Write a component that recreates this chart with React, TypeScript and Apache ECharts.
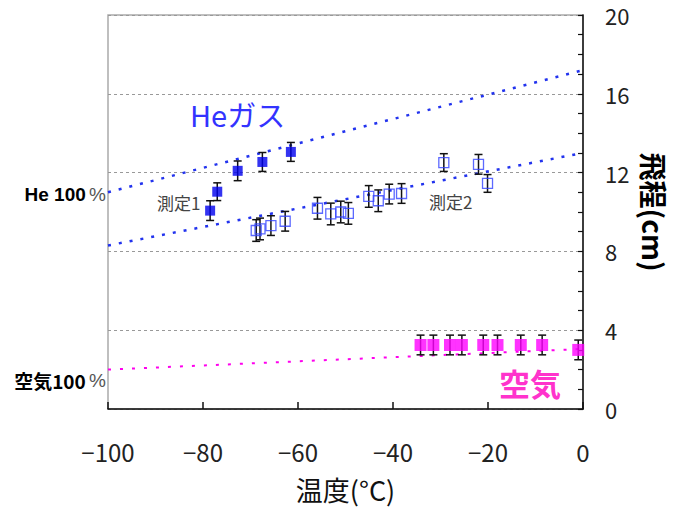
import React, { useEffect, useRef } from "react";
import * as echarts from "echarts";

// He gas, filled squares: [temperature, range]
const heFilledX = [-78.5, -77.0, -72.7, -67.5, -61.5];
const heFilledY = [10.07, 11.03, 12.09, 12.54, 13.05];
const heFilledErr = [0.5, 0.45, 0.5, 0.48, 0.48];

// Open squares (測定1 & 測定2)
const openX = [-68.8, -68.0, -65.7, -62.7, -55.9, -53.1, -51.0, -49.4, -45.1, -43.1, -40.8, -38.2, -29.3, -22.0, -20.1];
const openY = [9.06, 9.14, 9.31, 9.53, 10.19, 9.9, 10.0, 9.93, 10.79, 10.57, 10.91, 10.94, 12.51, 12.42, 11.45];
const openErr = [0.55, 0.55, 0.5, 0.5, 0.55, 0.55, 0.55, 0.55, 0.55, 0.55, 0.5, 0.5, 0.45, 0.5, 0.45];

// Air, filled magenta squares
const airX = [-34.2, -31.5, -28.0, -25.5, -21.0, -18.0, -13.1, -8.6, -1.0];
const airY = [3.25, 3.25, 3.25, 3.25, 3.25, 3.25, 3.25, 3.25, 3.0];
const airErr = [0.5, 0.5, 0.5, 0.5, 0.5, 0.5, 0.5, 0.5, 0.5];

// Dotted fit lines: [x, y] end points
const heUpperLine = [[-100, 11.0], [0, 17.2]];
const heLowerLine = [[-100, 8.3], [0, 13.0]];
const airLine = [[-100, 2.0], [0, 3.05]];

const xTicks = { min: -100, max: 0, interval: 20 };
const yTicks = { min: 0, max: 20, interval: 4 };

const NUM_FONT = "'Noto Sans CJK JP', sans-serif";
const JP_FONT = "'Noto Sans CJK JP', sans-serif";

function pairs(xs: number[], ys: number[]) {
  return xs.map((x, i) => [x, ys[i]]);
}
function errData(xs: number[], ys: number[], es: number[]) {
  return xs.map((x, i) => [x, ys[i] - es[i], ys[i] + es[i]]);
}

const errRender = (params: any, api: any) => {
  const x = api.value(0);
  const lo = api.coord([x, api.value(1)]);
  const hi = api.coord([x, api.value(2)]);
  const cap = 4;
  const style = { stroke: "#111", lineWidth: 1.5 };
  return {
    type: "group",
    children: [
      { type: "line", shape: { x1: lo[0], y1: lo[1], x2: hi[0], y2: hi[1] }, style },
      { type: "line", shape: { x1: lo[0] - cap, y1: lo[1], x2: lo[0] + cap, y2: lo[1] }, style },
      { type: "line", shape: { x1: hi[0] - cap, y1: hi[1], x2: hi[0] + cap, y2: hi[1] }, style },
    ],
  };
};

export default function App() {
  const ref = useRef<HTMLDivElement>(null);
  useEffect(() => {
    if (!ref.current) return;
    const chart = echarts.init(ref.current, undefined, { renderer: "svg" });
    const option: any = {
      animation: false,
      backgroundColor: "#fff",
      grid: {
        left: 108,
        right: 101,
        top: 15,
        bottom: 98,
        show: true,
        borderColor: "#aaa",
        borderWidth: 1.5,
      },
      xAxis: {
        type: "value",
        min: xTicks.min,
        max: xTicks.max,
        interval: xTicks.interval,
        name: "温度(°C)",
        nameLocation: "middle",
        nameGap: 65,
        nameTextStyle: { fontFamily: JP_FONT, fontSize: 27, color: "#111", lineHeight: 30 },
        axisLine: { show: true, lineStyle: { color: "#111", width: 1.5 } },
        axisTick: { show: true, inside: true, length: 7, lineStyle: { color: "#111", width: 1.5 } },
        axisLabel: {
          margin: 30,
          fontSize: 24,
          fontFamily: NUM_FONT,
          color: "#222",
          formatter: (v: number) => String(v).replace("-", "−"),
        },
        splitLine: { show: false },
      },
      yAxis: {
        type: "value",
        position: "right",
        min: yTicks.min,
        max: yTicks.max,
        interval: yTicks.interval,
        name: "飛程(cm)",
        nameLocation: "middle",
        nameRotate: -90,
        nameGap: 52,
        nameTextStyle: { fontFamily: JP_FONT, fontSize: 28, fontWeight: "bold", color: "#000" },
        axisLine: { show: true, lineStyle: { color: "#111", width: 1.5 } },
        axisTick: { show: true, inside: true, length: 5, lineStyle: { color: "#111", width: 1.2 } },
        minorTick: { show: true, splitNumber: 4, length: 5, lineStyle: { color: "#111", width: 1.2 } },
        axisLabel: { margin: 22, fontSize: 22, lineHeight: 22, fontFamily: NUM_FONT, color: "#222" },
        splitLine: { show: true, lineStyle: { color: "#999", type: [3, 3], width: 1.2 } },
      },
      graphic: [
        {
          type: "text",
          x: 190,
          y: 99,
          style: { text: "Heガス", fontFamily: JP_FONT, fontSize: 29, fill: "#3333ff" },
        },
        {
          type: "text",
          x: 499,
          y: 367,
          style: { text: "空気", fontFamily: JP_FONT, fontSize: 31, fontWeight: "bold", fill: "#ff33cc" },
        },
        {
          type: "text",
          x: 157,
          y: 194,
          style: { text: "測定1", fontFamily: JP_FONT, fontSize: 17, fill: "#444" },
        },
        {
          type: "text",
          x: 429,
          y: 193,
          style: { text: "測定2", fontFamily: JP_FONT, fontSize: 17, fill: "#444" },
        },
        {
          type: "text",
          x: 106,
          y: 194,
          style: {
            text: "{b|He 100} {n|%}",
            align: "right",
            verticalAlign: "middle",
            rich: {
              b: { fontFamily: "'Liberation Sans', sans-serif", fontSize: 19, fontWeight: "bold", fill: "#000" },
              n: { fontFamily: "'Liberation Sans', sans-serif", fontSize: 19, fill: "#555" },
            },
          },
        },
        {
          type: "text",
          x: 106,
          y: 380,
          style: {
            text: "{b|空気100} {n|%}",
            align: "right",
            verticalAlign: "middle",
            rich: {
              b: { fontFamily: JP_FONT, fontSize: 19, fontWeight: "bold", fill: "#000" },
              n: { fontFamily: "'Liberation Sans', sans-serif", fontSize: 19, fill: "#555" },
            },
          },
        },
      ],
      series: [
        {
          type: "line",
          data: heUpperLine,
          symbol: "none",
          lineStyle: { color: "#2233ee", width: 2.5, type: [3, 8] },
          z: 1,
        },
        {
          type: "line",
          data: heLowerLine,
          symbol: "none",
          lineStyle: { color: "#2233ee", width: 2.5, type: [3, 8] },
          z: 1,
        },
        {
          type: "line",
          data: airLine,
          symbol: "none",
          lineStyle: { color: "#ff00ee", width: 2, type: [3, 9] },
          z: 1,
        },
        { type: "custom", renderItem: errRender, data: errData(heFilledX, heFilledY, heFilledErr), z: 2 },
        { type: "custom", renderItem: errRender, data: errData(openX, openY, openErr), z: 2 },
        { type: "custom", renderItem: errRender, data: errData(airX, airY, airErr), z: 2 },
        {
          type: "scatter",
          data: pairs(heFilledX, heFilledY),
          symbol: "rect",
          symbolSize: 10,
          itemStyle: { color: "#0000ee" },
          z: 3,
        },
        {
          type: "scatter",
          data: pairs(openX, openY),
          symbol: "rect",
          symbolSize: 10,
          itemStyle: { color: "rgba(255,255,255,0)", borderColor: "#3344ff", borderWidth: 1.3 },
          z: 3,
        },
        {
          type: "scatter",
          data: pairs(airX, airY),
          symbol: "rect",
          symbolSize: 12,
          itemStyle: { color: "#ff00ff" },
          z: 3,
        },
      ],
    };
    chart.setOption(option);
    return () => chart.dispose();
  }, []);
  return <div ref={ref} style={{ width: 684, height: 509, position: "absolute", left: 0, top: 0 }} />;
}
